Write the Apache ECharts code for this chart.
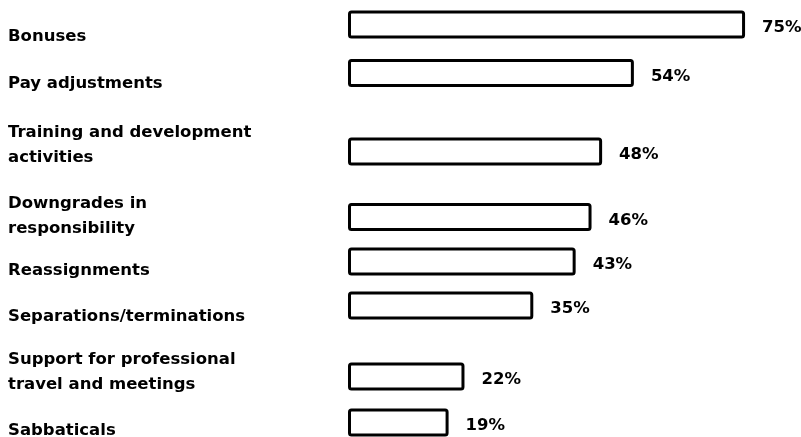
<!DOCTYPE html>
<html>
<head>
<meta charset="utf-8">
<script src="https://cdn.jsdelivr.net/npm/echarts@6/dist/echarts.min.js"></script>
<style>
  html, body { margin: 0; padding: 0; background: #ffffff; }
  #chart { width: 801px; height: 437px; }
</style>
</head>
<body>
<div id="chart"></div>
<script>
// ---- data ----
const categories = [
  'Bonuses',
  'Pay adjustments',
  'Training and development\nactivities',
  'Downgrades in\nresponsibility',
  'Reassignments',
  'Separations/terminations',
  'Support for professional\ntravel and meetings',
  'Sabbaticals'
];
const values = [75, 54, 48, 46, 43, 35, 22, 19];

// ---- layout (vertical positions, in y-axis units = pixels) ----
const barY = [24.5, 73, 151.5, 217, 261.5, 305.5, 376.5, 422.5];
const labelY = [37, 84, 145.5, 216, 271, 317, 372.5, 431];

const FONT = '"DejaVu Sans", sans-serif';

const chart = echarts.init(document.getElementById('chart'), null, { renderer: 'canvas' });

chart.setOption({
  animation: false,
  backgroundColor: '#ffffff',
  grid: { left: 348, right: 3, top: 0, bottom: 0, containLabel: false },
  xAxis: { type: 'value', min: 0, max: 85, show: false },
  yAxis: { type: 'value', min: 0, max: 437, inverse: true, show: false },
  series: [{
    type: 'custom',
    clip: false,
    data: values.map((v, i) => [v, barY[i], labelY[i], i]),
    renderItem: function (params, api) {
      const v = api.value(0);
      const i = api.value(3);
      const start = api.coord([0, api.value(1)]);
      const end = api.coord([v, api.value(1)]);
      const lab = api.coord([0, api.value(2)]);
      const h = 25;
      return {
        type: 'group',
        children: [
          {
            type: 'rect',
            shape: { x: start[0] + 1.5, y: start[1] - h / 2, width: end[0] - start[0] - 3, height: h, r: 2 },
            style: { fill: '#ffffff', stroke: '#000000', lineWidth: 3 }
          },
          {
            type: 'text',
            x: end[0] + 17,
            y: end[1] + 3.5,
            style: {
              text: v + '%',
              fill: '#000000',
              font: 'bold 16.5px ' + FONT,
              align: 'left',
              verticalAlign: 'middle'
            }
          },
          {
            type: 'text',
            x: 8,
            y: lab[1],
            style: {
              text: categories[i],
              fill: '#000000',
              font: 'bold 16.5px ' + FONT,
              lineHeight: 25,
              align: 'left',
              verticalAlign: 'middle'
            }
          }
        ]
      };
    }
  }]
});
</script>
</body>
</html>
